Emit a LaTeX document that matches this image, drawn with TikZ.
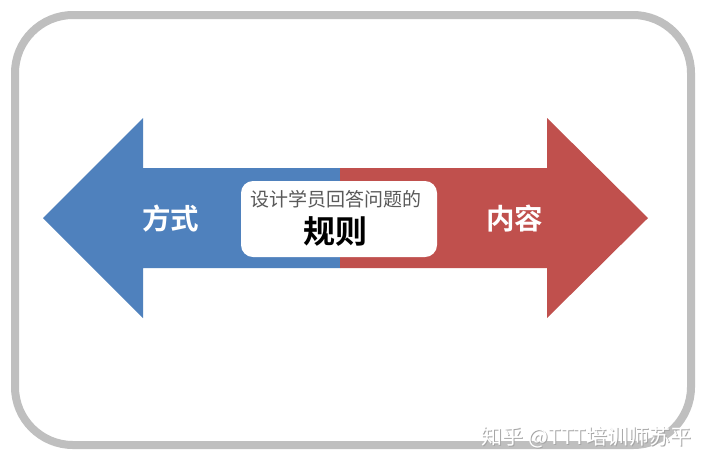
\documentclass[tikz,border=0pt]{standalone}
\usepackage{fontspec}
\newfontfamily\cjk{Noto Sans CJK SC}[BoldFont={Noto Sans CJK SC Bold}]
\definecolor{arrowblue}{HTML}{4F81BD}
\definecolor{arrowred}{HTML}{C0504D}
\definecolor{framegray}{HTML}{BFBFBF}
\definecolor{subgray}{HTML}{595959}
\begin{document}
\begin{tikzpicture}[x=1pt,y=-1pt,
  frame/.style={draw=framegray,line width=8pt,rounded corners=58pt},
  lbl/.style={text=white,font=\cjk\bfseries\fontsize{28.5}{30}\selectfont},
  centerbox/.style={fill=white,rounded corners=12pt,minimum width=196pt,minimum height=76pt}]
\useasboundingbox (0,0) rectangle (706,467);
\fill[white] (0,0) rectangle (706,467);
\draw[frame] (15,15) rectangle (691,445);
\fill[arrowblue] (43,218) -- (143,118) -- (143,168) -- (340,168) -- (340,268) -- (143,268) -- (143,318) -- cycle;
\fill[arrowred] (648,218) -- (547,118) -- (547,168) -- (340,168) -- (340,268) -- (547,268) -- (547,318) -- cycle;
\node[centerbox] (box) at (339,219) {};
\node[text=subgray,font=\cjk\fontsize{19}{21}\selectfont] (sub) at (336,199) {设计学员回答问题的};
\node[text=black,font=\cjk\bfseries\fontsize{32}{34}\selectfont] (main) at (335,232) {规则};
\node[lbl] (left) at (170.5,219) {方式};
\node[lbl] (right) at (514.5,219) {内容};
\node[text=gray!70,font=\cjk\fontsize{21}{23}\selectfont] (wm0) at (587.5,438.5) {知乎 @TTT培训师苏平};
\node[text=white,font=\cjk\fontsize{21}{23}\selectfont] (wm) at (586.5,437.5) {知乎 @TTT培训师苏平};
\end{tikzpicture}
\end{document}
